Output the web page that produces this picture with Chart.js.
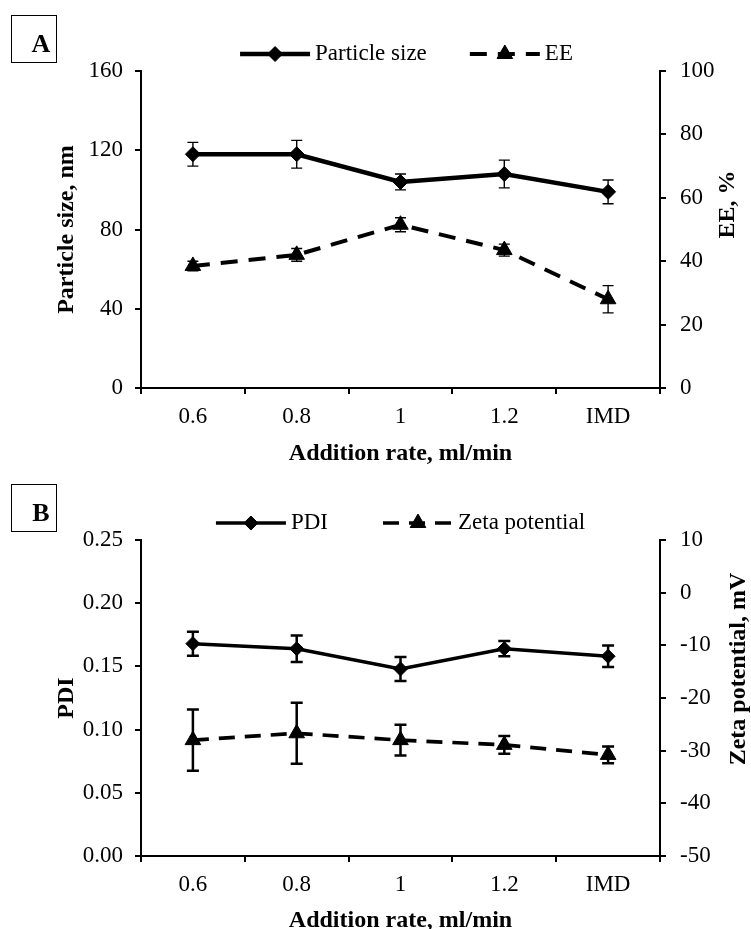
<!DOCTYPE html>
<html>
<head>
<meta charset="utf-8">
<script src="https://cdn.jsdelivr.net/npm/chart.js@4.4.1/dist/chart.umd.min.js"></script>
<style>
  html, body { margin: 0; padding: 0; background: #fff; }
  #wrap { position: relative; width: 751px; height: 929px; }
  canvas { position: absolute; left: 0; }
  #chartA { top: 0; }
  #chartB { top: 468px; }
</style>
</head>
<body>
<div id="wrap">
  <canvas id="chartA" width="751" height="468"></canvas>
  <canvas id="chartB" width="751" height="461"></canvas>
</div>
<script>
// addition rate categories (shared x axis)
const rates = ['0.6', '0.8', '1', '1.2', 'IMD'];

// panel A: particle size (nm) and entrapment efficiency (%), mean and SD
const particleSize = [118, 118, 104, 108, 99];
const particleSizeSd = [6, 7, 4, 7, 6];
const ee = [38.5, 42, 51.5, 43.5, 28];
const eeSd = [1.5, 2, 2.2, 1.9, 4.3];

// panel B: polydispersity index and zeta potential (mV), mean and SD
const pdi = [0.168, 0.164, 0.148, 0.164, 0.158];
const pdiSd = [0.0095, 0.0105, 0.0095, 0.006, 0.0085];
const zeta = [-28, -26.7, -28, -28.9, -30.8];
const zetaSd = [5.8, 5.8, 2.9, 1.7, 1.6];

const serif = '"Liberation Serif", "Times New Roman", serif';
Chart.defaults.font.family = serif;
Chart.defaults.font.size = 23;
Chart.defaults.color = '#000';

// marker helper, used for the key (falls back if helpers are missing)
function marker(ctx, style, r, x, y) {
  if (Chart.helpers && Chart.helpers.drawPoint) {
    Chart.helpers.drawPoint(ctx, { pointStyle: style, radius: r, rotation: 0, borderWidth: 1 }, x, y);
    return;
  }
  ctx.beginPath();
  if (style === 'triangle') {
    ctx.moveTo(x, y - r);
    ctx.lineTo(x + r * 0.866, y + r / 2);
    ctx.lineTo(x - r * 0.866, y + r / 2);
  } else {
    ctx.moveTo(x - r, y); ctx.lineTo(x, y - r); ctx.lineTo(x + r, y); ctx.lineTo(x, y + r);
  }
  ctx.closePath();
  ctx.fill();
  ctx.stroke();
}

// vertical error bars from dataset.errors
const errorBars = {
  id: 'errorBars',
  afterDatasetsDraw(chart, args, opts) {
    const ctx = chart.ctx;
    ctx.save();
    ctx.strokeStyle = '#000';
    ctx.lineWidth = opts.width;
    ctx.setLineDash([]);
    chart.data.datasets.forEach((ds, i) => {
      if (!ds.errors) return;
      const ys = chart.scales[ds.yAxisID];
      chart.getDatasetMeta(i).data.forEach((pt, j) => {
        const top = ys.getPixelForValue(ds.data[j] + ds.errors[j]);
        const bot = ys.getPixelForValue(ds.data[j] - ds.errors[j]);
        const c = opts.cap;
        ctx.beginPath();
        ctx.moveTo(pt.x, top); ctx.lineTo(pt.x, bot);
        ctx.moveTo(pt.x - c, top); ctx.lineTo(pt.x + c, top);
        ctx.moveTo(pt.x - c, bot); ctx.lineTo(pt.x + c, bot);
        ctx.stroke();
      });
    });
    ctx.restore();
  }
};

// key row above the plot: sample line with marker, then the label
const seriesKey = {
  id: 'seriesKey',
  afterDraw(chart, args, opts) {
    const { ctx, chartArea } = chart;
    const sets = chart.data.datasets;
    const lineLen = 70, textGap = 5;
    ctx.save();
    ctx.font = '23px ' + serif;
    const widths = sets.map(ds => lineLen + textGap + ctx.measureText(ds.label).width);
    const total = widths.reduce((a, b) => a + b, 0) + opts.gap * (sets.length - 1);
    let x = (chartArea.left + chartArea.right) / 2 + opts.shift - total / 2;
    const y = chartArea.top - opts.lift;
    sets.forEach((ds, i) => {
      ctx.strokeStyle = '#000';
      ctx.fillStyle = '#000';
      ctx.lineWidth = ds.borderWidth;
      ctx.setLineDash(ds.borderDash || []);
      ctx.beginPath();
      ctx.moveTo(x, y);
      ctx.lineTo(x + lineLen, y);
      ctx.stroke();
      ctx.setLineDash([]);
      ctx.lineWidth = 1;
      marker(ctx, ds.pointStyle, ds.pointRadius, x + lineLen / 2, y);
      ctx.textAlign = 'left';
      ctx.textBaseline = 'middle';
      ctx.fillText(ds.label, x + lineLen + textGap, y);
      x += widths[i] + opts.gap;
    });
    ctx.restore();
  }
};

// boxed panel letter in the top-left corner
const panelTag = {
  id: 'panelTag',
  afterDraw(chart, args, opts) {
    const ctx = chart.ctx;
    const top = chart.chartArea.top;
    ctx.save();
    ctx.strokeStyle = '#000';
    ctx.lineWidth = 1;
    ctx.strokeRect(11.5, top - 55.5, 45, 47);
    ctx.fillStyle = '#000';
    ctx.font = 'bold 26px ' + serif;
    ctx.textAlign = 'center';
    ctx.textBaseline = 'middle';
    ctx.fillText(opts.text, 41, top - 26);
    ctx.restore();
  }
};

// right axis title, reading bottom to top like the left one
const rightTitle = {
  id: 'rightTitle',
  afterDraw(chart, args, opts) {
    const s = chart.scales[opts.axis];
    const ctx = chart.ctx;
    ctx.save();
    ctx.fillStyle = '#000';
    ctx.font = 'bold 24px ' + serif;
    ctx.translate(s.right - opts.inset, (s.top + s.bottom) / 2 - opts.lift);
    ctx.rotate(-Math.PI / 2);
    ctx.textAlign = 'center';
    ctx.textBaseline = 'middle';
    ctx.fillText(opts.text, 0, 0);
    ctx.restore();
  }
};

const tickGrid = { drawOnChartArea: false, drawTicks: true, tickLength: 6, color: '#000', lineWidth: 2 };
const axisLine = { display: true, color: '#000', width: 2 };
const boldTitle = { size: 24, weight: 'bold' };

function xAxis(height, titlePadBottom) {
  return {
    offset: true,
    grid: Object.assign({ offset: true }, tickGrid),
    border: axisLine,
    ticks: { padding: 9 },
    title: { display: true, text: 'Addition rate, ml/min', font: boldTitle, padding: { top: 0, bottom: titlePadBottom } },
    afterFit: s => { s.height = height; }
  };
}

new Chart(document.getElementById('chartA'), {
  type: 'line',
  data: {
    labels: rates,
    datasets: [{
      label: 'Particle size',
      data: particleSize,
      errors: particleSizeSd,
      yAxisID: 'y',
      borderColor: '#000',
      backgroundColor: '#000',
      borderWidth: 4.5,
      tension: 0,
      pointStyle: 'rectRot',
      pointRadius: 7.5,
      pointBackgroundColor: '#000',
      pointBorderColor: '#000',
      pointBorderWidth: 1
    }, {
      label: 'EE',
      data: ee,
      errors: eeSd,
      yAxisID: 'y1',
      borderColor: '#000',
      backgroundColor: '#000',
      borderWidth: 4,
      borderDash: [17, 11],
      tension: 0,
      pointStyle: 'triangle',
      pointRadius: 9,
      pointBackgroundColor: '#000',
      pointBorderColor: '#000',
      pointBorderWidth: 1
    }]
  },
  options: {
    responsive: false,
    animation: false,
    layout: { padding: { top: 71, left: 0, right: 0, bottom: 0 } },
    plugins: {
      legend: { display: false },
      tooltip: { enabled: false },
      errorBars: { width: 1.4, cap: 5.5 },
      seriesKey: { gap: 43, shift: 6, lift: 17 },
      panelTag: { text: 'A' },
      rightTitle: { axis: 'y1', text: 'EE, %', inset: 23, lift: 25 }
    },
    scales: {
      x: xAxis(80, 0),
      y: {
        position: 'left',
        min: 0, max: 160,
        ticks: { stepSize: 40, padding: 12 },
        grid: tickGrid,
        border: axisLine,
        title: { display: true, text: 'Particle size, nm', font: boldTitle, padding: { top: 52, bottom: 0 } },
        afterFit: s => { s.width = 141; }
      },
      y1: {
        position: 'right',
        min: 0, max: 100,
        ticks: { stepSize: 20, padding: 14 },
        grid: tickGrid,
        border: axisLine,
        afterFit: s => { s.width = 91; }
      }
    }
  },
  plugins: [errorBars, seriesKey, panelTag, rightTitle]
});

new Chart(document.getElementById('chartB'), {
  type: 'line',
  data: {
    labels: rates,
    datasets: [{
      label: 'PDI',
      data: pdi,
      errors: pdiSd,
      yAxisID: 'y',
      borderColor: '#000',
      backgroundColor: '#000',
      borderWidth: 3.5,
      tension: 0,
      pointStyle: 'rectRot',
      pointRadius: 7,
      pointBackgroundColor: '#000',
      pointBorderColor: '#000',
      pointBorderWidth: 1
    }, {
      label: 'Zeta potential',
      data: zeta,
      errors: zetaSd,
      yAxisID: 'y1',
      borderColor: '#000',
      backgroundColor: '#000',
      borderWidth: 3.7,
      borderDash: [16, 10],
      tension: 0,
      pointStyle: 'triangle',
      pointRadius: 9,
      pointBackgroundColor: '#000',
      pointBorderColor: '#000',
      pointBorderWidth: 1
    }]
  },
  options: {
    responsive: false,
    animation: false,
    layout: { padding: { top: 72, left: 0, right: 0, bottom: 0 } },
    plugins: {
      legend: { display: false },
      tooltip: { enabled: false },
      errorBars: { width: 2.5, cap: 6 },
      seriesKey: { gap: 55, shift: 0, lift: 17 },
      panelTag: { text: 'B' },
      rightTitle: { axis: 'y1', text: 'Zeta potential, mV', inset: 12, lift: 29 }
    },
    scales: {
      x: xAxis(73, -6),
      y: {
        position: 'left',
        min: 0, max: 0.25,
        ticks: { stepSize: 0.05, padding: 12, callback: v => v.toFixed(2) },
        grid: tickGrid,
        border: axisLine,
        title: { display: true, text: 'PDI', font: boldTitle, padding: { top: 52, bottom: 0 } },
        afterFit: s => { s.width = 141; }
      },
      y1: {
        position: 'right',
        min: -50, max: 10,
        ticks: { stepSize: 10, padding: 14 },
        grid: tickGrid,
        border: axisLine,
        afterFit: s => { s.width = 91; }
      }
    }
  },
  plugins: [errorBars, seriesKey, panelTag, rightTitle]
});
</script>
</body>
</html>
